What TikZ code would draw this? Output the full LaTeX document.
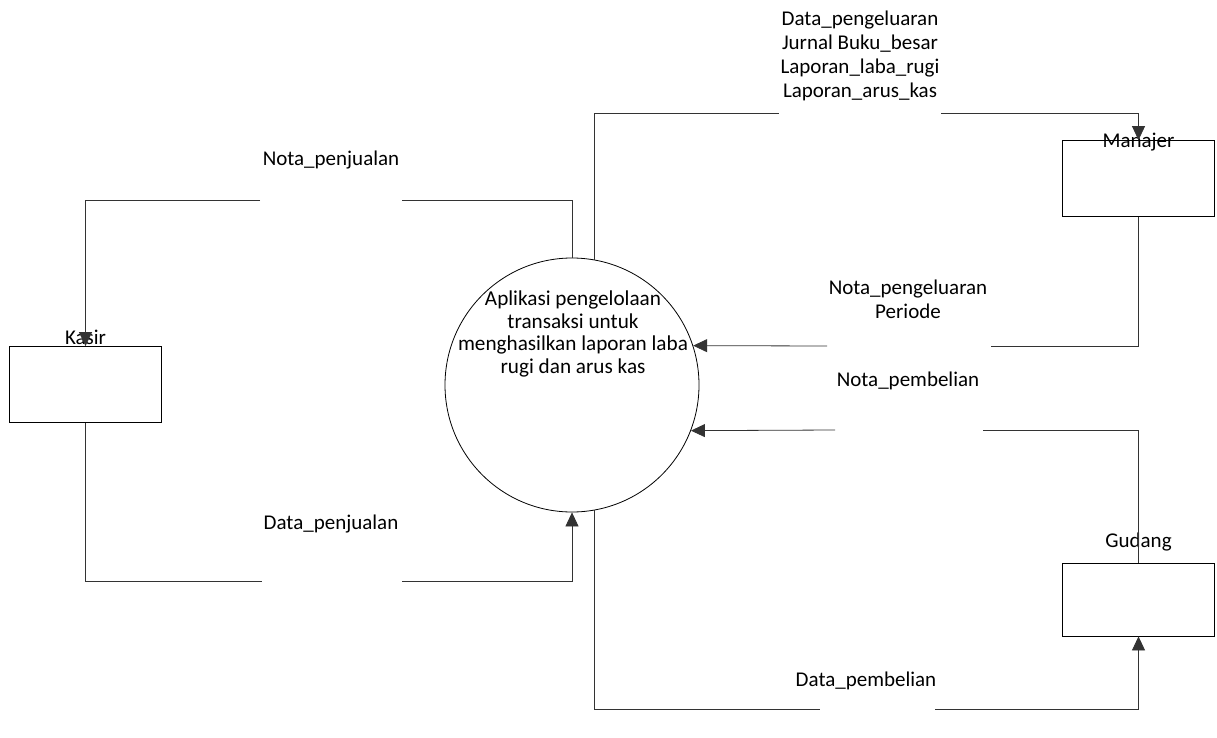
\documentclass[tikz,border=0pt]{standalone}
\usepackage{fontspec}
\setmainfont{Carlito}
\usepackage{tikz}
\usetikzlibrary{arrows.meta}
\tikzstyle{flow} = [line width=0.8pt,draw=black!80]
\tikzstyle{flowarr} = [line width=0.8pt,draw=black!80,-{Triangle[length=14pt,width=13pt]}]
\tikzstyle{entity}=[rectangle,draw,line width=0.8pt,minimum width=152pt,minimum height=76pt]
\tikzstyle{lbl}=[align=center,inner sep=0pt,font=\fontsize{21}{24}\selectfont]

\begin{document}
\begin{tikzpicture}[x=1pt,y=-1pt]
      \useasboundingbox (0,0) rectangle (1217,738);
      \node (proc) [circle,draw,line width=0.8pt,minimum size=254pt,inner sep=0pt] at (572,385) {};
      \node (ptext) [lbl,font=\fontsize{21.2}{22.5}\selectfont] at (573,334) {Aplikasi pengelolaan\\transaksi untuk\\menghasilkan laporan laba\\rugi dan arus kas};
      \node (kasir) [entity,label={[lbl,anchor=base,yshift=2pt]north:Kasir}] at (85.5,384.5) {};
      \node (manajer) [entity,label={[lbl,anchor=base,yshift=-7pt]north:Manajer}] at (1138.5,178.5) {};
      \node (gudang) [entity,minimum height=73pt,label={[lbl,anchor=base,yshift=15pt]north:Gudang}] at (1138.5,599.5) {};
      % labels of the flows
      \node (lnp) [lbl] at (331,160) {Nota\_penjualan};
      \node (ldj) [lbl] at (331,524) {Data\_penjualan};
      \node (ldp) [lbl] at (860,56) {Data\_pengeluaran\\Jurnal Buku\_besar\\Laporan\_laba\_rugi\\Laporan\_arus\_kas};
      \node (lng) [lbl] at (908,299) {Nota\_pengeluaran\\Periode};
      \node (lnb) [lbl] at (908,381) {Nota\_pembelian};
      \node (ldb) [lbl] at (866,681) {Data\_pembelian};
      % ends of the gaps
      \coordinate (np1) at (402,200);
      \coordinate (np2) at (260,200);
      \coordinate (dj1) at (262,581);
      \coordinate (dj2) at (402,581);
      \coordinate (dp1) at (779,113);
      \coordinate (dp2) at (941,113);
      \coordinate (ng1) at (991,346);
      \coordinate (ng2) at (827,346);
      \coordinate (nb1) at (983,430);
      \coordinate (nb2) at (835,430);
      \coordinate (db1) at (820,709);
      \coordinate (db2) at (935,709);
      \draw [flow] (proc.north) |- (np1);
      \draw [flowarr] (np2) -| (kasir.north);
      \draw [flow] (kasir.south) |- (dj1);
      \draw [flowarr] (dj2) -| (proc.south);
      \draw [flow] (proc.80) |- (dp1);
      \draw [flowarr] (dp2) -| (manajer.north);
      \draw [flow] (manajer.south) |- (ng1);
      \draw [flowarr] (ng2) -- (proc.18);
      \draw [flow] (gudang.north) |- (nb1);
      \draw [flowarr] (nb2) -- (proc.-21);
      \draw [flow] (proc.-80) |- (db1);
      \draw [flowarr] (db2) -| (gudang.south);
    \end{tikzpicture}
\end{document}
